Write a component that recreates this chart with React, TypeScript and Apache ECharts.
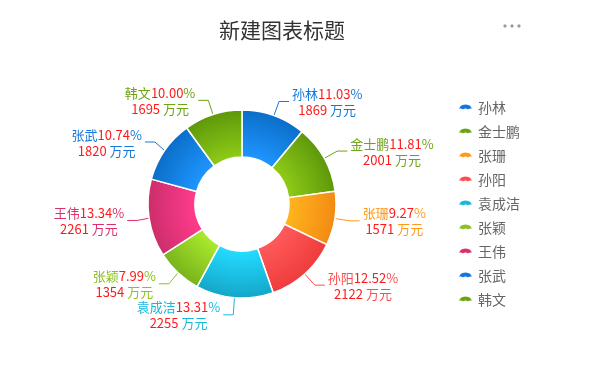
import React, { useEffect, useRef } from "react";
import * as echarts from "echarts";

const titleText = "新建图表标题";
const names = ["孙林", "金士鹏", "张珊", "孙阳", "袁成洁", "张颖", "王伟", "张武", "韩文"];
const values = [1869, 2001, 1571, 2122, 2255, 1354, 2261, 1820, 1695];
const lightColors = ["#1f95ff", "#8ecb17", "#ffb51d", "#ff5a5a", "#24dcff", "#abea2e", "#ff3b8d", "#1f95ff", "#8ecb17"];
const darkColors = ["#0b6ec8", "#5e980b", "#f38a14", "#ef3c3c", "#14a6c9", "#79b31b", "#cc2e6b", "#0b6ec8", "#5e980b"];
const mainColors = ["#1677d8", "#6ea414", "#ff9a1a", "#ff4d4d", "#1ab8da", "#8cc21d", "#dc2f6e", "#1677d8", "#6ea414"];
const unitText = " 万元";

const CX = 242;
const CY = 204;
const R_OUT = 94;
const R_IN = 47;

export default function App() {
  const ref = useRef<HTMLDivElement>(null);
  useEffect(() => {
    document.body.style.margin = "0";
    if (!ref.current) return;
    const chart = echarts.init(ref.current, undefined, { renderer: "svg" });
    const font = '"Noto Sans CJK SC", "Noto Sans", sans-serif';
    const total = values.reduce((a, b) => a + b, 0);
    const tok = (color: string) => ({
      color,
      fontSize: 13,
      fontFamily: font,
      align: "center",
      lineHeight: 16,
    });
    const data = names.map((n, i) => ({
      name: n,
      value: values[i],
      itemStyle: {
        color: new echarts.graphic.RadialGradient(
          CX,
          CY,
          R_OUT,
          [
            { offset: 0, color: lightColors[i] },
            { offset: R_IN / R_OUT, color: lightColors[i] },
            { offset: 1, color: darkColors[i] },
          ],
          true
        ),
      },
      label: {
        rich: {
          n: tok(mainColors[i]),
          p: tok("#ff1a1a"),
          u: tok(mainColors[i]),
          v: tok("#ff1a1a"),
        },
      },
      labelLine: { lineStyle: { color: mainColors[i], width: 1 } },
    }));

    chart.setOption({
      animation: false,
      title: {
        text: titleText,
        left: 214,
        top: 13,
        textStyle: { fontSize: 21, fontWeight: "normal", color: "#333", fontFamily: font },
      },
      legend: {
        orient: "vertical",
        left: 452,
        top: 95,
        itemWidth: 15,
        itemHeight: 7,
        itemGap: 10,
        icon: "path://M0,7 C0,2 3.5,0 7.5,0 C11.5,0 15,2 15,7 L12.5,6 L10,7 L7.5,6 L5,7 L2.5,6 Z",
        textStyle: { fontSize: 14, color: "#666", fontFamily: font },
        data: names.map((n, i) => ({ name: n, itemStyle: { color: mainColors[i] } })),
      },
      graphic: [
        { type: "circle", shape: { cx: 505, cy: 26, r: 1.6 }, style: { fill: "#999" } },
        { type: "circle", shape: { cx: 512, cy: 26, r: 1.6 }, style: { fill: "#999" } },
        { type: "circle", shape: { cx: 519, cy: 26, r: 1.6 }, style: { fill: "#999" } },
      ],
      series: [
        {
          type: "pie",
          center: [CX, CY],
          radius: [R_IN, R_OUT],
          startAngle: 90,
          clockwise: true,
          itemStyle: { borderColor: "#fff", borderWidth: 1.5 },
          label: {
            show: true,
            position: "outside",
            distanceToLabelLine: 3,
            formatter: (p: any) =>
              `{n|${p.name}}{p|${((p.value / total) * 100).toFixed(2)}}{u|%}\n{v|${p.value}}{u|${unitText}}`,
          },
          labelLine: { show: true, length: 15, length2: 10 },
          data,
        },
      ],
    });
    return () => chart.dispose();
  }, []);
  return <div ref={ref} style={{ position: "fixed", left: 0, top: 0, width: 605, height: 370 }} />;
}
